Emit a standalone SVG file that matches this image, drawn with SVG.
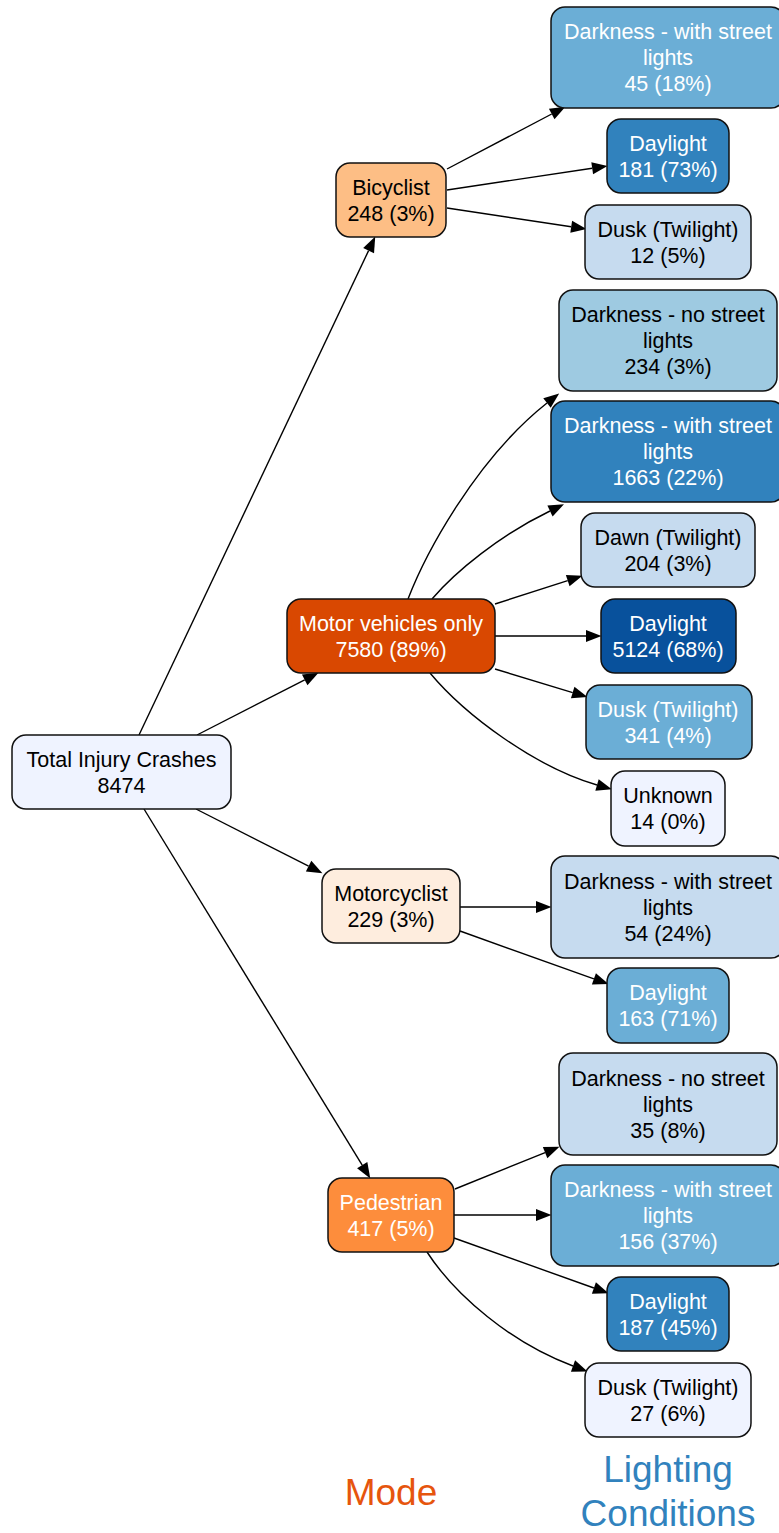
<svg xmlns="http://www.w3.org/2000/svg" width="779" height="1533" viewBox="0 0 779 1533">
<style>
.n rect{stroke:#111;stroke-width:1.5}
text{font-family:"Liberation Sans",Arial,sans-serif;font-size:21.5px;text-anchor:middle}
.w text{fill:#fff}
.k text{fill:#000}
#edges path{fill:none;stroke:#000;stroke-width:1.4;marker-end:url(#arr)}
.lbl{font-size:37px}
</style>
<defs>
<marker id="arr" markerUnits="userSpaceOnUse" markerWidth="17" markerHeight="14" refX="0" refY="6" orient="auto" overflow="visible">
<path d="M0,0 L15.5,6 L0,12 Z" fill="#000"/>
</marker>
</defs>
<rect width="779" height="1533" fill="#fff"/>
<g id="edges">
<path d="M139,735 L368.6,250.6"/>
<path d="M197,735 L304.7,679.8"/>
<path d="M196,809 L308.6,866.2"/>
<path d="M144,809 L362.2,1165.2"/>
<path d="M447,169 L551.7,114"/>
<path d="M447,190 L592.2,168.2"/>
<path d="M447,208 L571.2,226.8"/>
<path d="M408,599 C425,555 475,460 547,403"/>
<path d="M432,599 C455,572 500,535 550,511"/>
<path d="M495,604 L567.7,580.6"/>
<path d="M495,636 L586,636"/>
<path d="M495,669 L572.7,692.6"/>
<path d="M430,673 C465,715 535,767 597,785"/>
<path d="M460,907 L536,907"/>
<path d="M460,931 L593.9,978.9"/>
<path d="M455,1189 L545.1,1152.6"/>
<path d="M454,1215 L536,1215"/>
<path d="M454,1238 L593.9,1288"/>
<path d="M427,1252 C455,1295 511,1343 573,1366"/>
</g>
<g id="total" class="n k"><rect x="12" y="735" width="219" height="74" rx="14" fill="#eff3ff"/><text x="121.5" y="766.5">Total Injury Crashes</text><text x="121.5" y="792.5">8474</text></g>
<g id="bicyclist" class="n k"><rect x="336" y="163" width="110" height="74" rx="14" fill="#fdbe85"/><text x="391" y="194.5">Bicyclist</text><text x="391" y="220.5">248 (3%)</text></g>
<g id="motor" class="n w"><rect x="287" y="599" width="208" height="74" rx="14" fill="#d94801"/><text x="391" y="630.5">Motor vehicles only</text><text x="391" y="656.5">7580 (89%)</text></g>
<g id="motorcyclist" class="n k"><rect x="322" y="869" width="138" height="74" rx="14" fill="#feedde"/><text x="391" y="900.5">Motorcyclist</text><text x="391" y="926.5">229 (3%)</text></g>
<g id="pedestrian" class="n w"><rect x="328" y="1178" width="126" height="74" rx="14" fill="#fd8d3c"/><text x="391" y="1209.5">Pedestrian</text><text x="391" y="1235.5">417 (5%)</text></g>
<g id="bic_dark_with" class="n w"><rect x="551" y="7" width="234" height="101" rx="14" fill="#6baed6"/><text x="668" y="39">Darkness - with street</text><text x="668" y="65">lights</text><text x="668" y="91">45 (18%)</text></g>
<g id="bic_daylight" class="n w"><rect x="607" y="119" width="122" height="74" rx="14" fill="#3182bd"/><text x="668" y="150.5">Daylight</text><text x="668" y="176.5">181 (73%)</text></g>
<g id="bic_dusk" class="n k"><rect x="585" y="205" width="166" height="74" rx="14" fill="#c6dbef"/><text x="668" y="236.5">Dusk (Twilight)</text><text x="668" y="262.5">12 (5%)</text></g>
<g id="mv_dark_no" class="n k"><rect x="559" y="290" width="218" height="101" rx="14" fill="#9ecae1"/><text x="668" y="322">Darkness - no street</text><text x="668" y="348">lights</text><text x="668" y="374">234 (3%)</text></g>
<g id="mv_dark_with" class="n w"><rect x="551" y="401" width="234" height="101" rx="14" fill="#3182bd"/><text x="668" y="433">Darkness - with street</text><text x="668" y="459">lights</text><text x="668" y="485">1663 (22%)</text></g>
<g id="mv_dawn" class="n k"><rect x="581" y="513" width="174" height="74" rx="14" fill="#c6dbef"/><text x="668" y="544.5">Dawn (Twilight)</text><text x="668" y="570.5">204 (3%)</text></g>
<g id="mv_daylight" class="n w"><rect x="601" y="599" width="135" height="74" rx="14" fill="#08519c"/><text x="668" y="630.5">Daylight</text><text x="668" y="656.5">5124 (68%)</text></g>
<g id="mv_dusk" class="n w"><rect x="586" y="685" width="166" height="74" rx="14" fill="#6baed6"/><text x="668" y="716.5">Dusk (Twilight)</text><text x="668" y="742.5">341 (4%)</text></g>
<g id="mv_unknown" class="n k"><rect x="611" y="771" width="114" height="75" rx="14" fill="#eff3ff"/><text x="668" y="803">Unknown</text><text x="668" y="829">14 (0%)</text></g>
<g id="mc_dark_with" class="n k"><rect x="551" y="856" width="234" height="102" rx="14" fill="#c6dbef"/><text x="668" y="888.5">Darkness - with street</text><text x="668" y="914.5">lights</text><text x="668" y="940.5">54 (24%)</text></g>
<g id="mc_daylight" class="n w"><rect x="607" y="968" width="122" height="75" rx="14" fill="#6baed6"/><text x="668" y="1000">Daylight</text><text x="668" y="1026">163 (71%)</text></g>
<g id="ped_dark_no" class="n k"><rect x="559" y="1053" width="218" height="102" rx="14" fill="#c6dbef"/><text x="668" y="1085.5">Darkness - no street</text><text x="668" y="1111.5">lights</text><text x="668" y="1137.5">35 (8%)</text></g>
<g id="ped_dark_with" class="n w"><rect x="551" y="1165" width="234" height="101" rx="14" fill="#6baed6"/><text x="668" y="1197">Darkness - with street</text><text x="668" y="1223">lights</text><text x="668" y="1249">156 (37%)</text></g>
<g id="ped_daylight" class="n w"><rect x="607" y="1277" width="122" height="74" rx="14" fill="#3182bd"/><text x="668" y="1308.5">Daylight</text><text x="668" y="1334.5">187 (45%)</text></g>
<g id="ped_dusk" class="n k"><rect x="585" y="1363" width="166" height="74" rx="14" fill="#eff3ff"/><text x="668" y="1394.5">Dusk (Twilight)</text><text x="668" y="1420.5">27 (6%)</text></g>
<g id="labels">
<text class="lbl" x="391" y="1505" fill="#e6550d">Mode</text>
<text class="lbl" x="668" y="1482" fill="#3182bd">Lighting</text>
<text class="lbl" x="668" y="1526" fill="#3182bd">Conditions</text>
</g>
</svg>
